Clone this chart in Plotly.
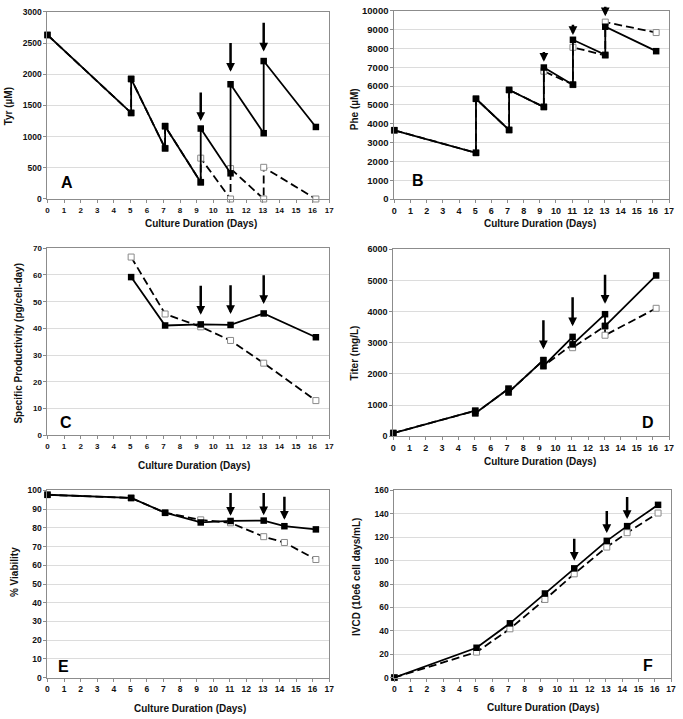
import plotly.graph_objects as go

# ---------------- data ----------------
# Panel A: Tyr (uM)
tyr_solid_x = [0, 5.05, 5.05, 7.1, 7.1, 9.25, 9.25, 11.05, 11.05, 13.05, 13.05, 16.2]
tyr_solid_y = [2630, 1380, 1925, 812, 1168, 268, 1130, 412, 1840, 1055, 2212, 1155]
tyr_dash_x = [0, 5.05, 5.05, 7.1, 7.1, 9.25, 9.25, 11.05, 11.05, 13.05, 13.05, 16.2]
tyr_dash_y = [2630, 1380, 1925, 812, 1168, 268, 655, 0, 488, 0, 508, 0]
tyr_arrow_x = [9.25, 11.05, 13.05]
tyr_arrow_head = [1250, 2040, 2365]
tyr_arrow_tail = [1730, 2525, 2850]

# Panel B: Phe (uM)
phe_solid_x = [0, 5.05, 5.05, 7.1, 7.1, 9.25, 9.25, 11.05, 11.05, 13.05, 13.05, 16.2]
phe_solid_y = [3655, 2455, 5330, 3670, 5800, 4895, 6990, 6080, 8465, 7665, 9160, 7860]
phe_dash_x = [0, 5.05, 5.05, 7.1, 7.1, 9.25, 9.25, 11.05, 11.05, 13.05, 13.05, 16.2]
phe_dash_y = [3655, 2455, 5330, 3670, 5800, 4895, 6795, 6080, 8065, 7630, 9405, 8850]
phe_arrow_x = [9.25, 11.05, 13.05]
phe_arrow_head = [7300, 8720, 9720]
phe_arrow_tail = [7900, 9340, 10300]

# Panel C: specific productivity (pg/cell-day)
qp_x = [5.05, 7.1, 9.25, 11.05, 13.05, 16.2]
qp_solid = [59.2, 41.1, 41.5, 41.3, 45.6, 36.7]
qp_dash = [66.7, 45.4, 40.6, 35.5, 27.0, 13.0]
qp_arrow_x = [9.25, 11.05, 13.05]
qp_arrow_head = [45.1, 45.4, 49.1]
qp_arrow_tail = [56.5, 56.7, 60.5]

# Panel D: titer (mg/L)
titer_solid_x = [0, 5.05, 5.05, 7.1, 7.1, 9.25, 9.25, 11.05, 11.05, 13.05, 13.05, 16.2]
titer_solid_y = [105, 820, 740, 1526, 1410, 2442, 2253, 3189, 2947, 3916, 3537, 5158]
titer_dash_x = [0, 5.05, 5.05, 7.1, 7.1, 9.25, 9.25, 11.05, 11.05, 13.05, 13.05, 16.2]
titer_dash_y = [105, 820, 740, 1526, 1410, 2442, 2253, 2950, 2842, 3537, 3242, 4105]
titer_arrow_x = [9.25, 11.05, 13.05]
titer_arrow_head = [2790, 3526, 4253]
titer_arrow_tail = [3768, 4505, 5232]

# Panel E: % viability
via_x = [0, 5.05, 7.1, 9.25, 11.05, 13.05, 14.3, 16.2]
via_solid = [97.7, 96.0, 88.1, 82.9, 83.7, 83.9, 80.9, 79.2]
via_dash = [97.7, 96.0, 88.1, 84.3, 82.7, 75.3, 72.2, 63.1]
via_arrow_x = [11.05, 13.05, 14.3]
via_arrow_head = [86.5, 86.8, 84.3]
via_arrow_tail = [99.5, 99.5, 97.4]

# Panel F: IVCD (10e6 cell days/mL)
ivcd_x = [0, 5.05, 7.1, 9.25, 11.05, 13.05, 14.3, 16.2]
ivcd_solid = [0, 25.5, 46.4, 71.9, 93.4, 116.9, 129.5, 147.7]
ivcd_dash = [0, 21.8, 41.7, 66.8, 88.7, 111.6, 123.9, 140.7]
ivcd_arrow_x = [11.05, 13.05, 14.3]
ivcd_arrow_head = [100, 123.7, 135.7]
ivcd_arrow_tail = [120, 143.8, 155.8]

x_ticks = list(range(0, 18))
x_title = "Culture Duration (Days)"
y_titles = ["Tyr (µM)", "Phe (µM)", "Specific Productivity (pg/cell-day)",
            "Titer (mg/L)", "% Viability", "IVCD (10e6 cell days/mL)"]
panel_letters = ["A", "B", "C", "D", "E", "F"]

# ---------------- layout helpers ----------------
W, H = 683, 719
FONT = "Liberation Sans, Arial, sans-serif"


def xd(l, r):
    return [l / W, r / W]


def yd(t, b):
    return [1 - b / H, 1 - t / H]


panels = [
    dict(px=(45, 330), py=(6, 196), ymax=3000, dtick=500, yfs=8.5, xfs=8),
    dict(px=(396, 674), py=(5, 196), ymax=10000, dtick=1000, yfs=9.5, xfs=9),
    dict(px=(45, 330), py=(246, 436), ymax=70, dtick=10, yfs=8, xfs=8),
    dict(px=(395, 674), py=(247, 437), ymax=6000, dtick=1000, yfs=9, xfs=9),
    dict(px=(45, 330), py=(492, 682), ymax=100, dtick=10, yfs=8.5, xfs=8.5),
    dict(px=(396, 676), py=(492, 682), ymax=160, dtick=20, yfs=8.5, xfs=8.5),
]

fig = go.Figure()

series = [
    (tyr_solid_x, tyr_solid_y, tyr_dash_x, tyr_dash_y),
    (phe_solid_x, phe_solid_y, phe_dash_x, phe_dash_y),
    (qp_x, qp_solid, qp_x, qp_dash),
    (titer_solid_x, titer_solid_y, titer_dash_x, titer_dash_y),
    (via_x, via_solid, via_x, via_dash),
    (ivcd_x, ivcd_solid, ivcd_x, ivcd_dash),
]
arrows = [
    (tyr_arrow_x, tyr_arrow_head, tyr_arrow_tail),
    (phe_arrow_x, phe_arrow_head, phe_arrow_tail),
    (qp_arrow_x, qp_arrow_head, qp_arrow_tail),
    (titer_arrow_x, titer_arrow_head, titer_arrow_tail),
    (via_arrow_x, via_arrow_head, via_arrow_tail),
    (ivcd_arrow_x, ivcd_arrow_head, ivcd_arrow_tail),
]

annotations = []
layout_axes = {}

for i, p in enumerate(panels):
    n = "" if i == 0 else str(i + 1)
    xa, ya = "x" + n, "y" + n
    sx, sy, dx, dy = series[i]
    fig.add_trace(go.Scatter(
        x=dx, y=dy, xaxis=xa, yaxis=ya, mode="lines+markers",
        line=dict(color="black", width=1.8, dash="8px,4px"),
        marker=dict(symbol="square", size=6, color="white",
                    line=dict(color="#8a8a8a", width=1)),
        showlegend=False, cliponaxis=False, hoverinfo="skip"))
    fig.add_trace(go.Scatter(
        x=sx, y=sy, xaxis=xa, yaxis=ya, mode="lines+markers",
        line=dict(color="black", width=1.8),
        marker=dict(symbol="square", size=6.5, color="black"),
        showlegend=False, cliponaxis=False, hoverinfo="skip"))

    layout_axes["xaxis" + n] = dict(
        domain=xd(*p["px"]), anchor=ya, range=[0, 17], tickmode="array",
        tickvals=x_ticks, ticktext=[str(v) for v in x_ticks],
        showgrid=False, zeroline=False, showline=True, mirror=True,
        linecolor="#8c8c8c", linewidth=1, ticks="outside", ticklen=3,
        tickcolor="#8c8c8c",
        tickfont=dict(family=FONT, size=p["xfs"], color="#111", weight="bold"))
    layout_axes["yaxis" + n] = dict(
        domain=yd(*p["py"]), anchor=xa, range=[0, p["ymax"]],
        dtick=p["dtick"], tick0=0, tickformat="d", showgrid=True,
        gridcolor="#dcdcdc", gridwidth=1, zeroline=False, showline=True,
        mirror=True, linecolor="#8c8c8c", linewidth=1, ticks="outside",
        ticklen=3, tickcolor="#8c8c8c", ticklabeloverflow="allow",
        tickfont=dict(family=FONT, size=p["yfs"], color="#111", weight="bold"))

    ax_x, ax_head, ax_tail = arrows[i]
    for xv, hv, tv in zip(ax_x, ax_head, ax_tail):
        annotations.append(dict(
            x=xv, y=hv, ax=xv, ay=tv, xref=xa, yref=ya, axref=xa, ayref=ya,
            showarrow=True, arrowhead=2, arrowsize=0.7, arrowwidth=2.5,
            arrowcolor="black", standoff=0, startstandoff=0, text=""))

# panel letters (placed in data coords of each panel)
letter_pos = [(1.15, 260), (1.45, 990), (1.1, 4.9), (15.7, 440), (0.95, 5.8), (15.6, 10)]
for i, (lx, ly) in enumerate(letter_pos):
    n = "" if i == 0 else str(i + 1)
    annotations.append(dict(
        x=lx, y=ly, xref="x" + n, yref="y" + n, text=panel_letters[i],
        showarrow=False, font=dict(family=FONT, size=16, color="black", weight="bold")))

# axis titles
title_font = dict(family=FONT, size=10, color="#111", weight="bold")
xt_pos = [(200, 221), (543, 221), (193, 467), (543, 463), (189, 713), (546, 712)]
for (px_, py_) in xt_pos:
    annotations.append(dict(
        x=px_ / W, y=1 - py_ / H, xref="paper", yref="paper", text=x_title,
        showarrow=False, font=title_font, xanchor="center", yanchor="middle"))
yt_pos = [(6, 102), (356, 105), (16, 342), (356, 352), (11, 575), (357, 580)]
for i, (px_, py_) in enumerate(yt_pos):
    annotations.append(dict(
        x=px_ / W, y=1 - py_ / H, xref="paper", yref="paper", text=y_titles[i],
        textangle=-90, showarrow=False, font=title_font,
        xanchor="center", yanchor="middle"))

fig.update_layout(
    width=W, height=H, margin=dict(l=0, r=0, t=0, b=0),
    paper_bgcolor="white", plot_bgcolor="white", hovermode=False,
    annotations=annotations, showlegend=False, **layout_axes)

# remove the default page margin so the figure sits at the window's corner
fig.write_html("out.html", config={"displayModeBar": False},
               post_script="document.body.style.margin='0';document.body.style.overflow='hidden';")
